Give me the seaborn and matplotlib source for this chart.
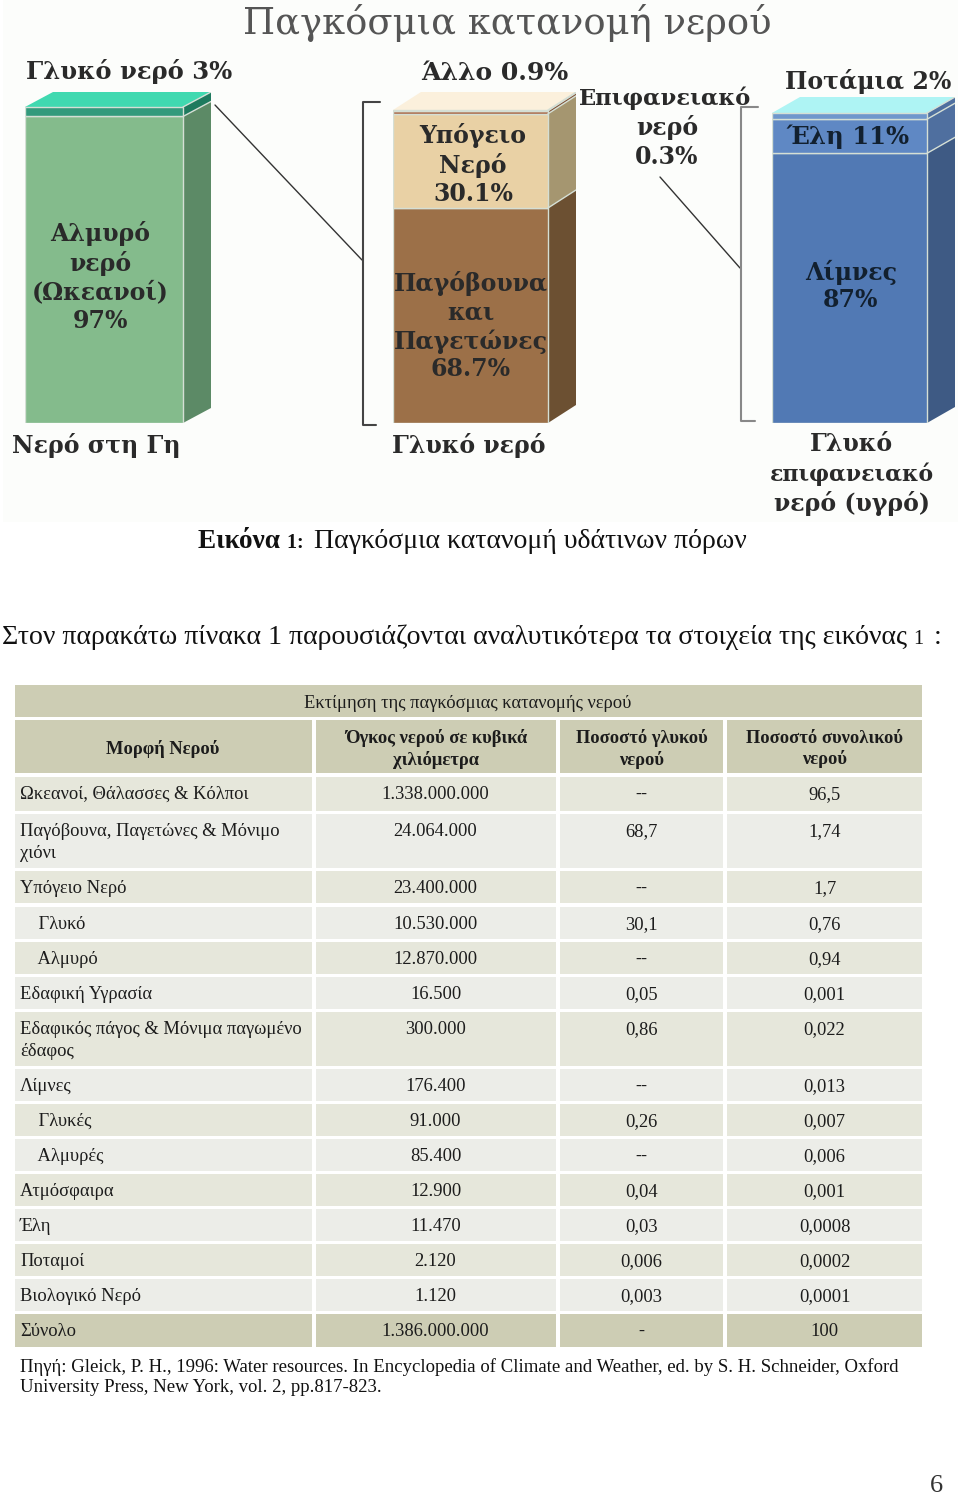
import numpy as np
import matplotlib
matplotlib.use('Agg')
import matplotlib.pyplot as plt
from matplotlib.patches import Rectangle
import seaborn as sb

# bars (percent)
earth_vals = [97, 3]
earth_cols = ['#84bb8c', '#339a7c']
earth_side = ['#5c8a66', '#1e7a5e']
fresh_vals = [68.7, 30.1, 0.9, 0.3]
fresh_cols = ['#9c7048', '#e9d1a5', '#ab6a48', '#ab6a48']
fresh_side = ['#6c5032', '#a59670', '#7c4c32', '#7c4c32']
surface_vals = [87, 11, 2]
surface_cols = ['#5179b4', '#5f88c4', '#6f97cc']
surface_side = ['#3e5a84', '#4f6f9f', '#4f6f9f']

# table
forms = ['Ωκεανοί, Θάλασσες & Κόλποι', 'Παγόβουνα, Παγετώνες & Μόνιμο\nχιόνι', 'Υπόγειο Νερό',
         '    Γλυκό', '    Αλμυρό', 'Εδαφική Υγρασία', 'Εδαφικός πάγος & Μόνιμα παγωμένο\nέδαφος',
         'Λίμνες', '    Γλυκές', '    Αλμυρές', 'Ατμόσφαιρα', 'Έλη', 'Ποταμοί', 'Βιολογικό Νερό', 'Σύνολο']
volumes = ['1.338.000.000', '24.064.000', '23.400.000', '10.530.000', '12.870.000', '16.500', '300.000',
           '176.400', '91.000', '85.400', '12.900', '11.470', '2.120', '1.120', '1.386.000.000']
fresh_pct = ['--', '68,7', '--', '30,1', '--', '0,05', '0,86', '--', '0,26', '--', '0,04', '0,03', '0,006', '0,003', '-']
total_pct = ['96,5', '1,74', '1,7', '0,76', '0,94', '0,001', '0,022', '0,013', '0,007', '0,006', '0,001',
             '0,0008', '0,0002', '0,0001', '100']
col_heads = ['Μορφή Νερού', 'Όγκος νερού σε κυβικά\nχιλιόμετρα', 'Ποσοστό γλυκού\nνερού', 'Ποσοστό συνολικού\nνερού']

W, H = 960, 1498
SERIF = 'DejaVu Serif'
TIMES = 'Liberation Serif'

sb.set_theme(style='white')
fig = plt.figure(figsize=(W / 100, H / 100), dpi=100, facecolor='white')
page = fig.add_axes([0, 0, 1, 1])
page.set_xlim(0, W)
page.set_ylim(H, 0)
page.axis('off')
page.set_zorder(5)
under = fig.add_axes([0, 0, 1, 1], zorder=-1)
under.set_xlim(0, W)
under.set_ylim(H, 0)
under.axis('off')
under.add_patch(Rectangle((3, 0), 955, 522, color='#fcfdfb', lw=0))


def stack(vals, cols, sides, left, right, top, bottom, depth, rise, top_col):
    # one seaborn bar per segment, front face fills the width of the bar
    front = right - left
    unit = (bottom - top) / 100
    ax = fig.add_axes([left / W, 1 - bottom / H, (front + depth) / W, (bottom - top + rise) / H])
    dx = 0.8 * depth / front
    dy = rise / unit
    base = 0
    for v, c, s in zip(vals, cols, sides):
        sb.barplot(x=[0], y=[v], bottom=base, width=0.8, color=c, saturation=1, ax=ax,
                   edgecolor='#d5dfd5', linewidth=1, zorder=3)
        ax.fill([0.4, 0.4 + dx, 0.4 + dx, 0.4], [base, base + dy, base + v + dy, base + v],
                color=s, lw=0, zorder=2)
        ax.plot([0.4, 0.4 + dx], [base + v, base + v + dy], color='#d5dfd5', lw=1, zorder=4)
        base += v
    ax.fill([-0.4, -0.4 + dx, 0.4 + dx, 0.4], [base, base + dy, base + dy, base], color=top_col, lw=0, zorder=2)
    ax.set_xlim(-0.4, 0.4 + dx)
    ax.set_ylim(0, base + dy)
    ax.axis('off')
    ax.patch.set_alpha(0)


stack(earth_vals, earth_cols, earth_side, 25, 183, 107, 423, 28, 15, '#40d9b0')
stack(fresh_vals, fresh_cols, fresh_side, 393, 548, 110, 423, 28, 18, '#fbf0dc')
stack(surface_vals, surface_cols, surface_side, 772, 927, 113, 423, 28, 16, '#aef4f4')

# connector lines and brackets
page.plot([215, 362], [105, 260], color='#333333', lw=1)
page.plot([660, 740], [177, 268], color='#333333', lw=1)
page.plot([380, 363, 363, 376], [102, 102, 425, 425], color='#444444', lw=1.5)
page.plot([758, 741, 741, 755], [107, 107, 421, 421], color='#888888', lw=1.5)


def lab(x, y, s, size=17, color='#2a2a2a', ha='center', family=SERIF, weight='bold'):
    return page.text(x, y, s, fontsize=size, color=color, ha=ha, va='center', family=family, weight=weight)


lab(507, 23, 'Παγκόσμια κατανομή νερού', size=26.6, color='#555555', weight='normal')
lab(129, 72, 'Γλυκό νερό 3%', size=17.5)
lab(495, 73, 'Άλλο 0.9%', size=18)
lab(665, 98, 'Επιφανειακό', size=16.3)
lab(667, 128, 'νερό')
lab(667, 157, '0.3%')
lab(868, 82, 'Ποτάμια 2%')
lab(848, 137, 'Έλη 11%', color='#12202f', size=17.5)
lab(851, 272, 'Λίμνες', color='#12202f')
lab(851, 300, '87%', color='#12202f')
lab(473, 136, 'Υπόγειο')
lab(473, 166, 'Νερό')
lab(473, 194, '30.1%')
lab(471, 283, 'Παγόβουνα')
lab(471, 312, 'και')
lab(471, 342, 'Παγετώνες')
lab(471, 369, '68.7%')
lab(100, 234, 'Αλμυρό')
lab(100, 264, 'νερό')
lab(100, 292, '(Ωκεανοί)')
lab(100, 321, '97%')
lab(96, 445, 'Νερό στη Γη')
lab(469, 446, 'Γλυκό νερό')
lab(851, 444, 'Γλυκό')
lab(852, 474, 'επιφανειακό', size=15.8)
lab(852, 503, 'νερό (υγρό)')


def runs(x, y, parts):
    # text pieces in a row, each starts where the last one ended
    rend = fig.canvas.get_renderer()
    for s, size, weight in parts:
        t = page.text(x, y, s, fontsize=size, weight=weight, family=TIMES, color='#111111', va='baseline')
        x = page.transData.inverted().transform(t.get_window_extent(rend).get_points())[1, 0]


runs(198, 548, [('Εικόνα ', 19.6, 'bold'), ('1:  ', 14.5, 'bold'), ('Παγκόσμια κατανομή υδάτινων πόρων', 20.1, 'normal')])
runs(2, 644, [('Στον παρακάτω πίνακα 1 παρουσιάζονται αναλυτικότερα τα στοιχεία της εικόνας ', 20.1, 'normal'),
              ('1  ', 14.5, 'normal'), (':', 20.1, 'normal')])

# table cells
col_x = [(15, 312), (316, 556), (560, 723), (727, 922)]
row_y = [(777, 811), (814, 868), (871, 903), (907, 939), (942, 974), (977, 1009), (1012, 1066), (1069, 1101),
         (1104, 1136), (1139, 1171), (1174, 1206), (1209, 1241), (1244, 1276), (1279, 1311), (1314, 1347)]
HEAD = '#cdcdb4'
BODY_A = '#e6e7db'
BODY_B = '#ecede8'
BODY = 13.3
TXT = '#1c1c1c'

page.add_patch(Rectangle((15, 685), 907, 32, color=HEAD, lw=0))
lab(468, 703, 'Εκτίμηση της παγκόσμιας κατανομής νερού', size=BODY, family=TIMES, color=TXT, weight='normal')
for (x0, x1), head in zip(col_x, col_heads):
    page.add_patch(Rectangle((x0, 720), x1 - x0, 53, color=HEAD, lw=0))
    page.text((x0 + x1) / 2 - (1 if x0 == 15 else 0), 749, head, fontsize=BODY, weight='bold', family=TIMES, color=TXT,
              ha='center', va='center', linespacing=1.27)

for i, (y0, y1) in enumerate(row_y):
    fill = HEAD if i == len(row_y) - 1 else (BODY_A if i % 2 == 0 else BODY_B)
    for x0, x1 in col_x:
        page.add_patch(Rectangle((x0, y0), x1 - x0, y1 - y0, color=fill, lw=0))
    for j, line in enumerate(forms[i].split('\n')):
        page.text(20, y0 + 22 + j * 22, line, fontsize=BODY, family=TIMES, color=TXT, va='baseline')
    for (x0, x1), vals, shift in zip(col_x[1:], [volumes, fresh_pct, total_pct], [-0.5, 0, 0]):
        page.text((x0 + x1) / 2 + shift, y0 + 22, vals[i], fontsize=BODY, family=TIMES, color=TXT, ha='center', va='baseline')

lab(20, 1367, 'Πηγή: Gleick, P. H., 1996: Water resources. In Encyclopedia of Climate and Weather, ed. by S. H. Schneider, Oxford',
    size=13.48, family=TIMES, ha='left', color='#111111', weight='normal')
lab(20, 1388, 'University Press, New York, vol. 2, pp.817-823.', size=13.48, family=TIMES, ha='left', color='#111111', weight='normal')
lab(936, 1486, '6', size=19, family=TIMES, color='#333333', weight='normal')

fig.savefig('out.png', dpi=100)
